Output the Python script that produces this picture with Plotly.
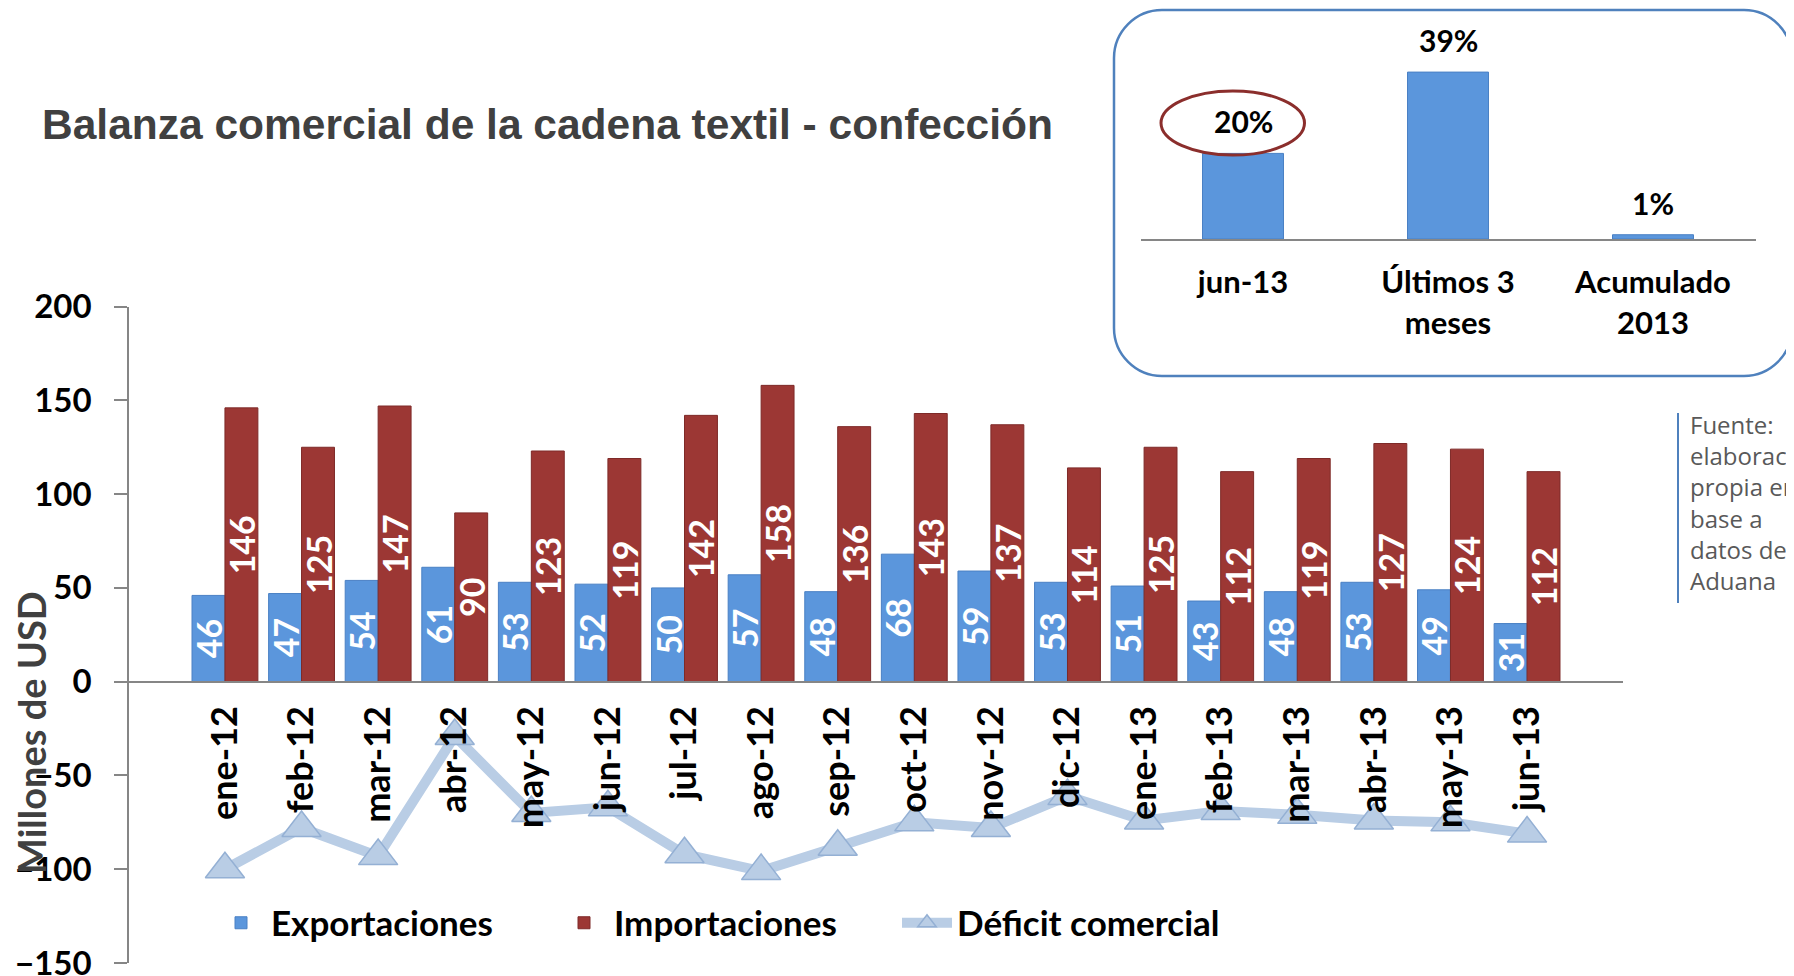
import plotly.graph_objects as go

# ==== data ====
months = ["ene-12", "feb-12", "mar-12", "abr-12", "may-12", "jun-12", "jul-12", "ago-12", "sep-12",
          "oct-12", "nov-12", "dic-12", "ene-13", "feb-13", "mar-13", "abr-13", "may-13", "jun-13"]
exportaciones = [46, 47, 54, 61, 53, 52, 50, 57, 48, 68, 59, 53, 51, 43, 48, 53, 49, 31]
importaciones = [146, 125, 147, 90, 123, 119, 142, 158, 136, 143, 137, 114, 125, 112, 119, 127, 124, 112]
deficit = [-100, -78, -93, -29, -70, -67, -92, -101, -88, -75, -78, -61, -74, -69, -71, -74, -75, -81]

# inset: variacion de importaciones
inset_cats = ["jun-13", "Últimos 3<br>meses", "Acumulado<br>2013"]
inset_vals = [20, 39, 1]

# page body has an 8px margin, so the figure is 8px smaller on each side
OFF = 8
W, H = 1794 - OFF, 976 - OFF


def px(x):
    return (x - OFF) / W


def py(y):
    return 1 - (y - OFF) / H


BLUE = "#5b96dc"
RED = "#9c3734"
LIGHT = "#b9cde5"
AXIS = "#868686"
bold = dict(family="Lato", weight="bold")

fig = go.Figure()

fig.add_trace(go.Bar(
    x=months, y=exportaciones, name="Exportaciones",
    marker=dict(color=BLUE, line=dict(color="#4a80c4", width=1)),
    texttemplate="%{y}", textposition="inside", insidetextanchor="middle",
    textangle=-90, constraintext="none",
    insidetextfont=dict(size=34, color="white", **bold),
))
fig.add_trace(go.Bar(
    x=months, y=importaciones, name="Importaciones",
    marker=dict(color=RED, line=dict(color="#7e2a28", width=1)),
    texttemplate="%{y}", textposition="inside", insidetextanchor="middle",
    textangle=-90, constraintext="none",
    insidetextfont=dict(size=34, color="white", **bold),
))
fig.add_trace(go.Scatter(
    x=months, y=deficit, name="Déficit comercial", mode="lines+markers",
    line=dict(color=LIGHT, width=10),
    marker=dict(symbol="triangle-up", size=34, color=LIGHT,
                line=dict(color="#94b0d4", width=1.5)),
    cliponaxis=False,
))

# inset chart
fig.add_trace(go.Bar(
    x=inset_cats, y=inset_vals, xaxis="x2", yaxis="y2", width=0.395,
    marker=dict(color=BLUE, line=dict(color="#4a80c4", width=1)),
    showlegend=False,
))

annotations = []
for c, v in zip(inset_cats, inset_vals):
    annotations.append(dict(
        x=c, y=v, xref="x2", yref="y2", text=f"{v}%", showarrow=False,
        yanchor="bottom", yshift=12, font=dict(size=30, color="black", **bold),
    ))

annotations += [
    dict(x=px(40), y=py(124), xref="paper", yref="paper", xanchor="left", yanchor="middle",
         text="Balanza comercial de la cadena textil - confección", showarrow=False,
         font=dict(family="Liberation Sans", weight="bold", size=42.5, color="#404040")),
    dict(x=px(31), y=py(733), xref="paper", yref="paper", xanchor="center", yanchor="middle",
         text="Millones de USD", textangle=-90, showarrow=False,
         font=dict(size=38, color="#404040", **bold)),
    dict(x=px(1688), y=py(406), xref="paper", yref="paper", xanchor="left", yanchor="top",
         align="left", showarrow=False,
         text="Fuente:<br>elaboración<br>propia en<br>base a<br>datos de<br>Aduana",
         font=dict(family="Open Sans", size=24, color="#595959")),
]


def rounded_rect(x0, y0, x1, y1, r):
    k = 0.45
    pts = [
        f"M {px(x0 + r)},{py(y0)}",
        f"L {px(x1 - r)},{py(y0)}",
        f"C {px(x1 - r * k)},{py(y0)} {px(x1)},{py(y0 + r * k)} {px(x1)},{py(y0 + r)}",
        f"L {px(x1)},{py(y1 - r)}",
        f"C {px(x1)},{py(y1 - r * k)} {px(x1 - r * k)},{py(y1)} {px(x1 - r)},{py(y1)}",
        f"L {px(x0 + r)},{py(y1)}",
        f"C {px(x0 + r * k)},{py(y1)} {px(x0)},{py(y1 - r * k)} {px(x0)},{py(y1 - r)}",
        f"L {px(x0)},{py(y0 + r)}",
        f"C {px(x0)},{py(y0 + r * k)} {px(x0 + r * k)},{py(y0)} {px(x0 + r)},{py(y0)}",
        "Z",
    ]
    return " ".join(pts)


shapes = [
    dict(type="path", xref="paper", yref="paper", path=rounded_rect(1114, 10, 1792, 376, 48),
         line=dict(color="#4f81bd", width=2.5), fillcolor="rgba(0,0,0,0)", layer="below"),
    dict(type="circle", xref="x2", yref="y2", x0=-0.40, x1=0.30, y0=19.6, y1=34.6,
         line=dict(color="#8b2e2c", width=3)),
    dict(type="line", xref="paper", yref="paper", x0=px(1678), x1=px(1678), y0=py(413), y1=py(603),
         line=dict(color="#4f81bd", width=2)),
]

fig.update_layout(
    width=W, height=H,
    margin=dict(l=0, r=0, t=0, b=0, pad=0, autoexpand=False),
    paper_bgcolor="white", plot_bgcolor="white",
    barmode="group", bargap=0.14, bargroupgap=0,
    xaxis=dict(
        domain=[px(129), px(1623)], anchor="free", position=py(681.7),
        type="category", tickangle=-90, ticks="", showgrid=False, automargin=False,
        showline=True, linecolor=AXIS, linewidth=2, ticklabelstandoff=9,
        tickfont=dict(size=36, color="black", **bold),
    ),
    yaxis=dict(
        domain=[py(963), py(306.6)], range=[-150, 200], dtick=50, automargin=False,
        showgrid=False, zeroline=False, showline=True, linecolor=AXIS, linewidth=1.5,
        ticks="outside", ticklen=13, tickcolor=AXIS, tickwidth=1.5, ticklabelstandoff=16,
        ticklabeloverflow="allow",
        tickfont=dict(size=33, color="black", **bold),
    ),
    xaxis2=dict(
        domain=[px(1140.5), px(1755.5)], anchor="y2", type="category", automargin=False,
        showline=True, linecolor=AXIS, linewidth=2, ticks="", showgrid=False,
        ticklabelstandoff=15, tickfont=dict(size=31, color="black", **bold),
    ),
    yaxis2=dict(
        domain=[py(239), py(46.4)], anchor="x2", range=[0, 45], automargin=False,
        visible=False, showgrid=False, zeroline=False,
    ),
    legend=dict(
        orientation="h", x=px(211), y=py(923), xanchor="left", yanchor="middle",
        itemwidth=50, entrywidth=278, bgcolor="rgba(0,0,0,0)",
        font=dict(size=35, color="black", **bold),
    ),
    annotations=annotations,
    shapes=shapes,
)

fig.write_html("out.html", config={"displayModeBar": False})
